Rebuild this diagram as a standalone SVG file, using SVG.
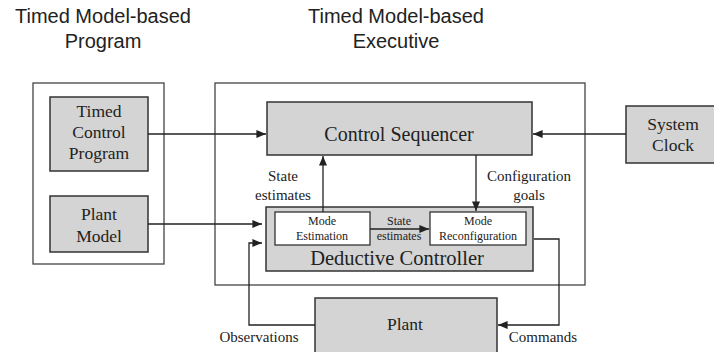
<svg xmlns="http://www.w3.org/2000/svg" width="714" height="352" viewBox="0 0 714 352">
  <defs>
    <marker id="arrow" viewBox="0 0 12 10" refX="12" refY="5" markerWidth="12" markerHeight="8" markerUnits="userSpaceOnUse" orient="auto">
      <path d="M0,0 L12,5 L0,10 z" fill="#222"/>
    </marker>
    <style>
      .frame { fill: #fff; stroke: #444; stroke-width: 1.3; }
      .block { fill: #d4d4d4; stroke: #333; stroke-width: 1.5; }
      .inner { fill: #fff; stroke: #333; stroke-width: 1.3; }
      .wire { fill: none; stroke: #222; stroke-width: 1.3; }
      .title { font-family: "Liberation Sans", Arial, sans-serif; font-size: 20px; fill: #222; text-anchor: middle; }
      .lbl { font-family: "Liberation Serif", "Times New Roman", serif; fill: #222; text-anchor: middle; }
    </style>
  </defs>

  <!-- headings -->
  <text class="title" x="103" y="23">Timed Model-based</text>
  <text class="title" x="103" y="48">Program</text>
  <text class="title" x="396" y="23">Timed Model-based</text>
  <text class="title" x="396" y="48">Executive</text>

  <!-- containers -->
  <rect id="program-frame" class="frame" x="33" y="83" width="131" height="181"/>
  <rect id="executive-frame" class="frame" x="215" y="83" width="370" height="202"/>

  <g id="timed-control-program">
    <rect class="block" x="50" y="97" width="98" height="74"/>
    <text class="lbl" font-size="17.5" x="99" y="117">Timed</text>
    <text class="lbl" font-size="17.5" x="99" y="138">Control</text>
    <text class="lbl" font-size="17.5" x="99" y="159">Program</text>
  </g>

  <g id="plant-model">
    <rect class="block" x="50" y="196" width="98" height="56"/>
    <text class="lbl" font-size="17.5" x="99" y="220">Plant</text>
    <text class="lbl" font-size="17.5" x="99" y="242">Model</text>
  </g>

  <g id="control-sequencer">
    <rect class="block" x="267" y="102" width="265" height="53"/>
    <text class="lbl" font-size="20" x="399" y="141">Control Sequencer</text>
  </g>

  <g id="system-clock">
    <rect class="block" x="626" y="106" width="92" height="57"/>
    <text class="lbl" font-size="17.5" x="673" y="130">System</text>
    <text class="lbl" font-size="17.5" x="673" y="151">Clock</text>
  </g>

  <g id="deductive-controller">
    <rect class="block" x="266" y="207" width="267" height="64"/>
    <text class="lbl" font-size="20.5" x="397" y="265">Deductive Controller</text>
  </g>

  <g id="mode-estimation">
    <rect class="inner" x="275" y="212" width="95" height="33"/>
    <text class="lbl" font-size="12" x="322" y="225">Mode</text>
    <text class="lbl" font-size="12" x="322" y="240">Estimation</text>
  </g>

  <g id="mode-reconfiguration">
    <rect class="inner" x="430" y="212" width="96" height="33"/>
    <text class="lbl" font-size="12" x="478" y="225">Mode</text>
    <text class="lbl" font-size="12" x="478" y="240">Reconfiguration</text>
  </g>

  <g id="plant">
    <rect class="block" x="315" y="298" width="182" height="58"/>
    <text class="lbl" font-size="17.5" x="405" y="330">Plant</text>
  </g>

  <!-- connectors -->
  <g id="connectors">
    <path class="wire" d="M148,134 H266" marker-end="url(#arrow)"/>
    <path class="wire" d="M626,134 H533" marker-end="url(#arrow)"/>
    <path class="wire" d="M323,212 V156" marker-end="url(#arrow)"/>
    <path class="wire" d="M476,155 V211" marker-end="url(#arrow)"/>
    <path class="wire" d="M370,229 H429" marker-end="url(#arrow)"/>
    <path class="wire" d="M148,224 H262" marker-end="url(#arrow)"/>
    <path class="wire" d="M315,325 H249 V243 H262" marker-end="url(#arrow)"/>
    <path class="wire" d="M534,239 H559 V325 H498" marker-end="url(#arrow)"/>
  </g>

  <!-- connector labels -->
  <g id="connector-labels">
    <text class="lbl" font-size="15" x="283" y="181">State</text>
    <text class="lbl" font-size="15" x="283" y="200">estimates</text>
    <text class="lbl" font-size="15" x="529" y="181">Configuration</text>
    <text class="lbl" font-size="15" x="529" y="200">goals</text>
    <text class="lbl" font-size="12" x="399" y="225">State</text>
    <text class="lbl" font-size="12" x="399" y="240">estimates</text>
    <text class="lbl" font-size="15" x="259" y="342">Observations</text>
    <text class="lbl" font-size="15" x="543" y="342">Commands</text>
  </g>
</svg>
